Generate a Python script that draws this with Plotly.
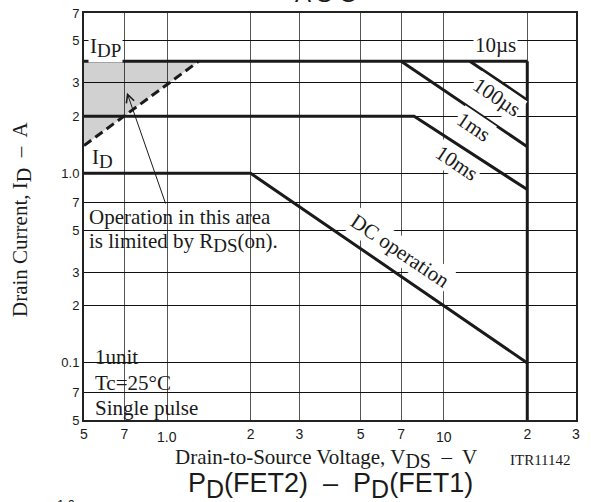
import math
import plotly.graph_objects as go

# ---------------- data (V, A) ----------------
idp_v = [0.5, 20.0]            # 10us / IDP limit
idp_i = [3.9, 3.9]
us100_v = [12.4, 20.0]
us100_i = [3.9, 2.43]
ms1_v = [7.0, 20.0]
ms1_i = [3.9, 1.38]
ms10_v = [0.5, 7.8, 20.0]
ms10_i = [2.0, 2.0, 0.82]
dc_v = [0.5, 2.0, 20.0]
dc_i = [1.0, 1.0, 0.1]
vmax_v = [20.0, 20.0]
vmax_i = [3.9, 0.05]
rds_v = [0.5, 1.3]             # RDS(on) limit (dashed)
rds_i = [1.4, 3.9]
area_v = [0.5, 0.5, 1.3]       # shaded area limited by RDS(on)
area_i = [1.4, 3.9, 3.9]

x_tickvals = [0.5, 0.7, 1, 2, 3, 5, 7, 10, 20, 30]
x_ticktext = ["5", "7", "", "2", "3", "5", "7", "", "2", "3"]
y_tickvals = [0.05, 0.07, 0.1, 0.2, 0.3, 0.5, 0.7, 1, 2, 3, 5, 7]
y_ticktext = ["5", "7", "0.1", "2", "3", "5", "7", "1.0", "2", "3", "5", "7"]

SERIF = "Liberation Serif, Times New Roman, serif"
SANS = "Liberation Sans, Arial, sans-serif"
INK = "#1a1a1a"
L = math.log10

fig = go.Figure()
fig.add_trace(go.Scatter(x=area_v, y=area_i, fill="toself", mode="lines",
                         line=dict(width=0), fillcolor="rgba(0,0,0,0.18)",
                         hoverinfo="skip", showlegend=False))
for xs, ys in [(idp_v, idp_i), (us100_v, us100_i), (ms1_v, ms1_i),
               (ms10_v, ms10_i), (dc_v, dc_i), (vmax_v, vmax_i)]:
    fig.add_trace(go.Scatter(x=xs, y=ys, mode="lines",
                             line=dict(color=INK, width=3), showlegend=False))
fig.add_trace(go.Scatter(x=rds_v, y=rds_i, mode="lines",
                         line=dict(color=INK, width=3, dash="9px,5px"),
                         showlegend=False))

def sub(t, size):
    return f'<sub><span style="font-size:{size}px">{t}</span></sub>'

ann = []
def lab(text, v, i, size=21, angle=0, xanchor="center", bg="white"):
    ann.append(dict(x=L(v), y=L(i), xref="x", yref="y", text=text, showarrow=False,
                    font=dict(family=SERIF, size=size, color=INK), textangle=angle,
                    xanchor=xanchor, yanchor="middle", bgcolor=bg, borderpad=1,
                    align="left"))

NOBG = "rgba(0,0,0,0)"
lab("I" + sub("DP", 19), 0.515, 4.6, xanchor="left")
lab("10µs", 15.4, 4.74)
lab("100µs", 15.5, 2.52, angle=34)
lab("1ms", 12.8, 1.75, angle=34)
lab("10ms", 11.1, 1.13, angle=34)
lab("DC operation", 6.95, 0.389, angle=34)
lab("I" + sub("D", 19), 0.525, 1.2, xanchor="left", bg=NOBG)
lab("Operation in this area", 0.513, 0.5875, xanchor="left", bg=NOBG)
lab("is limited by R" + sub("DS", 19) + "(on).", 0.513, 0.4335, xanchor="left", bg=NOBG)
lab("1unit", 0.537, 0.1074, xanchor="left", bg=NOBG)
lab("Tc=25°C", 0.537, 0.0783, xanchor="left", bg=NOBG)
lab("Single pulse", 0.537, 0.0578, xanchor="left", bg=NOBG)

# arrow pointing into the shaded area
ann.append(dict(x=L(0.715), y=L(2.66), ax=L(0.99), ay=L(0.68), xref="x", yref="y",
                axref="x", ayref="y", text="", showarrow=True, arrowhead=5,
                arrowsize=1.6, arrowwidth=1, arrowcolor=INK))

# x tick labels that sit lower
for v in [1, 10]:
    ann.append(dict(x=L(v), y=-0.042, xref="x", yref="paper", text="1.0" if v == 1 else "10",
                    showarrow=False, font=dict(family=SANS, size=14, color=INK),
                    yanchor="middle"))

def paper(text, xp, yp, size, family, xanchor="center", yanchor="middle", angle=0, yshift=0):
    ann.append(dict(x=xp, y=yp, xref="paper", yref="paper", text=text, showarrow=False,
                    font=dict(family=family, size=size, color=INK), xanchor=xanchor,
                    yanchor=yanchor, textangle=angle, yshift=yshift))

paper("Drain Current, I" + sub("D", 20) + "  –  A", -0.126, 0.494, 21, SERIF, angle=-90)
paper("Drain-to-Source Voltage, V" + sub("DS", 20) + "  –  V", 0.181, -0.094, 21, SERIF,
      xanchor="left")
paper("ITR11142", 0.994, -0.098, 15, SERIF, xanchor="right")
paper("P" + sub("D", 25) + "(FET2)  –  P" + sub("D", 25) + "(FET1)", 0.207, -0.161, 27, SANS,
      xanchor="left")
paper("A S O", 0.492, 1.0, 24, SANS, yanchor="bottom", yshift=4)
paper("1.0", -0.0366, -0.185, 13, SANS, yanchor="top")

# white panels behind the two text blocks (hide grid lines, as in the original)
shapes = [
    dict(type="rect", xref="paper", yref="paper", x0=0.002, x1=0.4085, y0=0.4054, y1=0.528,
         fillcolor="white", line=dict(width=0), layer="between"),
    dict(type="rect", xref="paper", yref="paper", x0=0.002, x1=0.258, y0=0.003, y1=0.189,
         fillcolor="white", line=dict(width=0), layer="between"),
]

fig.update_layout(
    width=591, height=502, autosize=False,
    margin=dict(l=84, r=15, t=13, b=82),
    paper_bgcolor="white", plot_bgcolor="white",
    annotations=ann, shapes=shapes,
    xaxis=dict(type="log", range=[L(0.5), L(30)], tickvals=x_tickvals, ticktext=x_ticktext,
               showgrid=True, gridcolor="#555", gridwidth=1, zeroline=False, automargin=False,
               showline=True, mirror=True, linecolor="#222", linewidth=2, ticks="",
               tickfont=dict(family=SANS, size=14, color=INK)),
    yaxis=dict(type="log", range=[L(0.05), L(7)], tickvals=y_tickvals, ticktext=y_ticktext,
               showgrid=True, gridcolor="#111", gridwidth=1, zeroline=False, automargin=False,
               showline=True, mirror=True, linecolor="#222", linewidth=2, ticks="",
               tickfont=dict(family=SANS, size=13, color=INK)),
)

fig.write_html("out.html", config={"responsive": False, "displayModeBar": False},
               post_script="document.body.style.margin='0';document.body.style.overflow='hidden';")
